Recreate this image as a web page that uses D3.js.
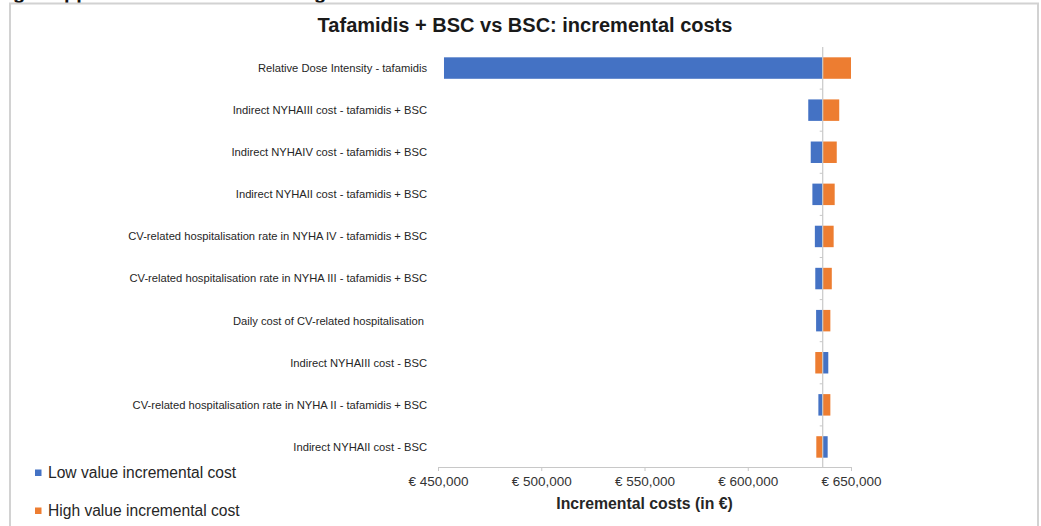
<!DOCTYPE html>
<html>
<head>
<meta charset="utf-8">
<script src="https://cdn.jsdelivr.net/npm/d3@7"></script>
<style>
  html, body { margin: 0; padding: 0; background: #ffffff; }
  svg { display: block; font-family: "Liberation Sans", Arial, sans-serif; }
</style>
</head>
<body>
<svg id="chart" width="1041" height="526"></svg>
<script>
// One-way sensitivity analysis (tornado) for tafamidis + BSC vs BSC
const parameters = [
  "Relative Dose Intensity - tafamidis",
  "Indirect NYHAIII cost - tafamidis + BSC",
  "Indirect NYHAIV cost - tafamidis + BSC",
  "Indirect NYHAII cost - tafamidis + BSC",
  "CV-related hospitalisation rate in NYHA IV - tafamidis + BSC",
  "CV-related hospitalisation rate in NYHA III - tafamidis + BSC",
  "Daily cost of CV-related hospitalisation ",
  "Indirect NYHAIII cost - BSC",
  "CV-related hospitalisation rate in NYHA II - tafamidis + BSC",
  "Indirect NYHAII cost - BSC"
];
// Incremental cost at the low and high value of each parameter (€)
const lowValues  = [452900, 629300, 630500, 631300, 632500, 632700, 633100, 639000, 634200, 638700];
const highValues = [650000, 644300, 643100, 642100, 641600, 640700, 640000, 632700, 640000, 633200];
// Base-case incremental cost (€)
const baseCase = 636300;
const xTicks = [450000, 500000, 550000, 600000, 650000];
const seriesNames = ["Low value incremental cost", "High value incremental cost"];
const seriesColors = ["#4472C4", "#ED7D31"];

const svg = d3.select("#chart");

// cut-off heading line of the surrounding page, only descenders visible
const headFrag = svg.append("g").attr("font-weight", "bold").attr("font-size", 20).attr("fill", "#111");
headFrag.append("text").attr("x", 13).attr("y", -1).text("g");
headFrag.append("text").attr("x", 64).attr("y", -1).text("pp");
headFrag.append("text").attr("x", 314).attr("y", -1).text("g");

// chart frame
svg.append("rect")
  .attr("x", 10).attr("y", 3.5)
  .attr("width", 1028).attr("height", 540)
  .attr("fill", "#ffffff")
  .attr("stroke", "#d2d2d2").attr("stroke-width", 2);

// title
svg.append("text")
  .attr("x", 525).attr("y", 32)
  .attr("text-anchor", "middle")
  .attr("font-size", 20).attr("font-weight", "bold")
  .attr("fill", "#1a1a1a")
  .text("Tafamidis + BSC vs BSC: incremental costs");

const x = d3.scaleLinear().domain([450000, 650000]).range([438, 851]);
const y = d3.scaleBand().domain(parameters).range([47, 468])
  .paddingInner(0.49).paddingOuter(0.245);

const rows = parameters.map((p, i) => ({ name: p, low: lowValues[i], high: highValues[i] }));

// bars: low (blue) and high (orange) measured from the base case
const barG = svg.append("g");
[["low", 0], ["high", 1]].forEach(([key, s]) => {
  barG.selectAll("rect." + key)
    .data(rows)
    .join("rect")
    .attr("class", key)
    .attr("x", d => x(Math.min(d[key], baseCase)))
    .attr("width", d => Math.abs(x(d[key]) - x(baseCase)))
    .attr("y", d => y(d.name))
    .attr("height", y.bandwidth())
    .attr("fill", seriesColors[s]);
});

// vertical category axis at the base case
const step = y.step();
const yStart = y.range()[0];
svg.append("line")
  .attr("x1", x(baseCase)).attr("x2", x(baseCase))
  .attr("y1", yStart).attr("y2", 468)
  .attr("stroke", "#c8c8c8").attr("stroke-width", 1.2);
svg.append("g").selectAll("line")
  .data(d3.range(1, parameters.length))
  .join("line")
  .attr("x1", x(baseCase) - 3).attr("x2", x(baseCase))
  .attr("y1", k => yStart + k * step).attr("y2", k => yStart + k * step)
  .attr("stroke", "#c8c8c8").attr("stroke-width", 1);

// category labels
svg.append("g").selectAll("text")
  .data(parameters)
  .join("text")
  .attr("x", 427)
  .attr("y", d => y(d) + y.bandwidth() / 2)
  .attr("dy", "0.35em")
  .attr("text-anchor", "end")
  .attr("font-size", 11.2)
  .attr("fill", "#262626")
  .style("white-space", "pre")
  .text(d => d);

// x axis
const xAxis = svg.append("g")
  .attr("transform", "translate(0,467)")
  .call(d3.axisBottom(x).tickValues(xTicks).tickSize(4).tickSizeOuter(0)
    .tickFormat(v => "€ " + d3.format(",")(v)));
xAxis.select(".domain").attr("stroke", "#c8c8c8").attr("stroke-width", 1.2);
xAxis.selectAll(".tick line").attr("stroke", "#c8c8c8");
xAxis.selectAll(".tick text")
  .attr("font-family", "Liberation Sans, Arial, sans-serif")
  .attr("font-size", 13.5).attr("fill", "#333").attr("y", 9).attr("dy", "0.71em");

svg.append("text")
  .attr("x", (x.range()[0] + x.range()[1]) / 2).attr("y", 509)
  .attr("text-anchor", "middle")
  .attr("font-size", 15.8).attr("font-weight", "bold").attr("fill", "#262626")
  .text("Incremental costs (in €)");

// legend
const legend = svg.append("g");
seriesNames.forEach((name, i) => {
  const cy = 472.5 + i * 38;
  legend.append("rect").attr("x", 35).attr("y", cy - 3).attr("width", 6.5).attr("height", 6.5)
    .attr("fill", seriesColors[i]);
  legend.append("text").attr("x", 48).attr("y", cy).attr("dy", "0.35em")
    .attr("font-size", 15.6).attr("fill", "#262626").text(name);
});
</script>
</body>
</html>
